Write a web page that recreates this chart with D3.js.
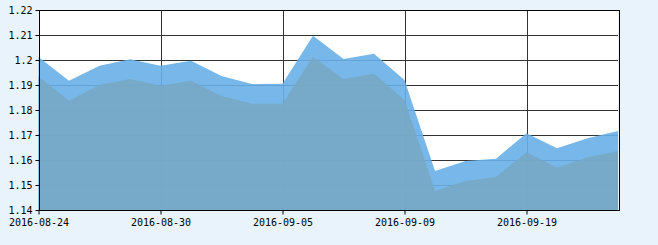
<!DOCTYPE html>
<html>
<head>
<meta charset="utf-8">
<script src="https://cdn.jsdelivr.net/npm/d3@7"></script>
<style>
    body { margin: 0; background: #e8f3fb; }
    text { font-family: "DejaVu Sans Mono", monospace; font-size: 10px; fill: #000; }
</style>
</head>
<body>
<div id="chart"></div>
<script>
// trading days
const dates = ['2016-08-24', '2016-08-25', '2016-08-26', '2016-08-29', '2016-08-30', '2016-08-31',
    '2016-09-01', '2016-09-02', '2016-09-05', '2016-09-06', '2016-09-07', '2016-09-08',
    '2016-09-09', '2016-09-12', '2016-09-13', '2016-09-14', '2016-09-19', '2016-09-20',
    '2016-09-21', '2016-09-22'];

const upperValues = [1.2012, 1.1917, 1.1977, 1.2003, 1.1977, 1.1997, 1.1936, 1.1904, 1.1905, 1.2097,
    1.2004, 1.2025, 1.1920, 1.1556, 1.1596, 1.1605, 1.1707, 1.1647, 1.1687, 1.1716];

const lowerValues = [1.1935, 1.1837, 1.1900, 1.1924, 1.1897, 1.1917, 1.1856, 1.1825, 1.1825, 1.2013,
    1.1924, 1.1945, 1.1840, 1.1476, 1.1516, 1.1532, 1.1631, 1.1569, 1.1611, 1.1636];

const yTicks = [1.14, 1.15, 1.16, 1.17, 1.18, 1.19, 1.2, 1.21, 1.22];
const xTickLabels = ['2016-08-24', '2016-08-30', '2016-09-05', '2016-09-09', '2016-09-19'];

const width = 658, height = 245;
const margin = { top: 10, right: 40, bottom: 35, left: 38.5 };

const svg = d3.select('#chart').append('svg')
    .attr('width', width)
    .attr('height', height);

const x = d3.scalePoint()
    .domain(dates)
    .range([margin.left, width - margin.right]);

const y = d3.scaleLinear()
    .domain([1.14, 1.22])
    .range([height - margin.bottom, margin.top]);

// white plot background
svg.append('rect')
    .attr('x', x.range()[0])
    .attr('y', margin.top)
    .attr('width', x.range()[1] - x.range()[0])
    .attr('height', y(1.14) - y(1.22))
    .attr('fill', '#fff');

// grid
svg.append('g')
    .selectAll('line.h')
    .data(yTicks)
    .enter().append('line')
    .attr('x1', x.range()[0]).attr('x2', x.range()[1])
    .attr('y1', d => Math.round(y(d)) + 0.5).attr('y2', d => Math.round(y(d)) + 0.5)
    .attr('stroke', '#333');

svg.append('g')
    .selectAll('line.v')
    .data(xTickLabels)
    .enter().append('line')
    .attr('x1', d => Math.round(x(d)) + 0.5).attr('x2', d => Math.round(x(d)) + 0.5)
    .attr('y1', margin.top).attr('y2', y(1.14))
    .attr('stroke', '#333');

// areas
const area = vals => d3.area()
    .x((d, i) => x(dates[i]))
    .y0(y(1.14))
    .y1(d => y(d))(vals);

svg.append('path')
    .attr('d', area(upperValues))
    .attr('fill', 'rgb(105,175,232)')
    .attr('fill-opacity', 0.9);

svg.append('path')
    .attr('d', area(lowerValues))
    .attr('fill', 'rgb(118,169,196)')
    .attr('fill-opacity', 0.9);

// frame
svg.append('rect')
    .attr('x', Math.round(x.range()[0]) + 0.5)
    .attr('y', margin.top + 0.5)
    .attr('width', Math.round(x.range()[1] - x.range()[0]))
    .attr('height', y(1.14) - y(1.22))
    .attr('fill', 'none')
    .attr('stroke', '#000');

// axes
const yAxis = svg.append('g')
    .attr('transform', `translate(${Math.round(x.range()[0]) + 0.5},0)`)
    .call(d3.axisLeft(y).tickValues(yTicks).tickSize(4).tickPadding(3)
        .tickFormat(d => String(+d.toFixed(2))));

const xAxis = svg.append('g')
    .attr('transform', `translate(0,${y(1.14) + 0.5})`)
    .call(d3.axisBottom(x).tickValues(xTickLabels).tickSize(4).tickPadding(4));

[yAxis, xAxis].forEach(g => {
    g.select('.domain').remove();
    g.selectAll('line').attr('stroke', '#000');
    g.selectAll('text').attr('font-family', '"DejaVu Sans Mono", monospace').attr('font-size', 10).attr('fill', '#000');
});
</script>
</body>
</html>
